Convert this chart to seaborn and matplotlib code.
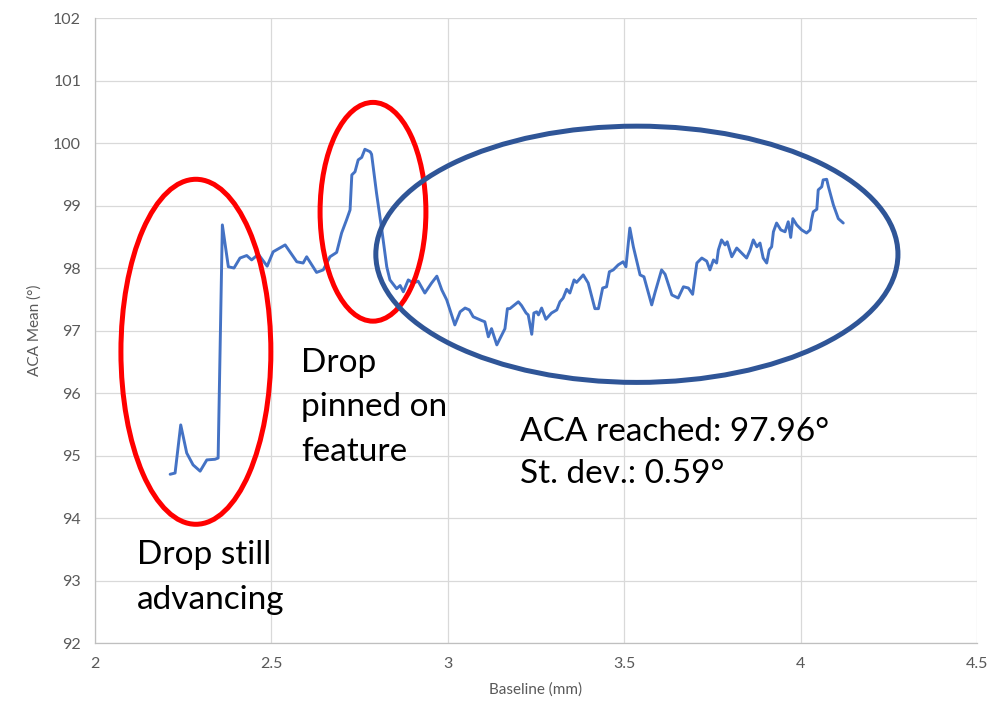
import numpy as np
import matplotlib.pyplot as plt
import pandas as pd
import seaborn as sns
from matplotlib.patches import Ellipse

# baseline (mm) i ACA mean (deg)
baseline = [2.213, 2.227, 2.243, 2.260, 2.278, 2.298, 2.317, 2.340, 2.349, 2.361,
            2.378, 2.394, 2.411, 2.430, 2.444, 2.463, 2.488, 2.505, 2.539, 2.572,
            2.590, 2.600, 2.628, 2.647, 2.666, 2.685, 2.699, 2.713, 2.723, 2.728,
            2.737, 2.746, 2.756, 2.765, 2.780, 2.784, 2.798, 2.813, 2.827, 2.836,
            2.855, 2.865, 2.874, 2.888, 2.902, 2.916, 2.935, 2.954, 2.969, 2.983,
            2.997, 3.020, 3.035, 3.049, 3.061, 3.072, 3.096, 3.105, 3.115, 3.124,
            3.139, 3.162, 3.169, 3.176, 3.200, 3.209, 3.222, 3.228, 3.238, 3.244,
            3.252, 3.257, 3.266, 3.278, 3.294, 3.309, 3.318, 3.327, 3.337, 3.346,
            3.358, 3.365, 3.384, 3.398, 3.417, 3.427, 3.439, 3.450, 3.458, 3.469,
            3.483, 3.497, 3.505, 3.516, 3.526, 3.545, 3.556, 3.578, 3.587, 3.606,
            3.616, 3.635, 3.653, 3.668, 3.682, 3.694, 3.706, 3.720, 3.734, 3.743,
            3.753, 3.762, 3.767, 3.776, 3.786, 3.792, 3.805, 3.819, 3.833, 3.847,
            3.857, 3.866, 3.876, 3.885, 3.894, 3.904, 3.911, 3.918, 3.923, 3.932,
            3.944, 3.956, 3.965, 3.972, 3.978, 3.989, 4.003, 4.017, 4.027, 4.031,
            4.036, 4.046, 4.050, 4.060, 4.064, 4.074, 4.079, 4.093, 4.107, 4.121]
aca_mean = [94.70, 94.72, 95.49, 95.04, 94.85, 94.75, 94.93, 94.94, 94.96, 98.69,
            98.02, 98.00, 98.16, 98.20, 98.13, 98.22, 98.03, 98.26, 98.37, 98.10,
            98.08, 98.18, 97.93, 97.97, 98.18, 98.25, 98.56, 98.77, 98.93, 99.49,
            99.54, 99.73, 99.77, 99.90, 99.86, 99.82, 99.20, 98.61, 98.02, 97.81,
            97.67, 97.72, 97.62, 97.81, 97.76, 97.79, 97.60, 97.76, 97.87, 97.65,
            97.49, 97.09, 97.30, 97.36, 97.33, 97.22, 97.16, 97.14, 96.90, 97.03,
            96.77, 97.03, 97.35, 97.35, 97.46, 97.40, 97.28, 97.25, 96.94, 97.28,
            97.30, 97.25, 97.36, 97.18, 97.28, 97.33, 97.46, 97.52, 97.66, 97.60,
            97.81, 97.77, 97.89, 97.76, 97.35, 97.35, 97.68, 97.70, 97.94, 97.97,
            98.05, 98.10, 98.02, 98.64, 98.34, 97.89, 97.86, 97.41, 97.60, 97.97,
            97.90, 97.57, 97.52, 97.70, 97.68, 97.58, 98.08, 98.16, 98.11, 97.97,
            98.13, 98.08, 98.29, 98.45, 98.37, 98.42, 98.18, 98.32, 98.24, 98.16,
            98.29, 98.45, 98.34, 98.40, 98.16, 98.08, 98.29, 98.34, 98.58, 98.72,
            98.61, 98.58, 98.74, 98.49, 98.79, 98.69, 98.61, 98.56, 98.61, 98.77,
            98.90, 98.94, 99.25, 99.30, 99.41, 99.42, 99.30, 99.01, 98.79, 98.72]

x_ticks = [2, 2.5, 3, 3.5, 4, 4.5]
x_labels = ['2', '2.5', '3', '3.5', '4', '4.5']
y_ticks = list(range(92, 103))

df = pd.DataFrame({'Baseline (mm)': baseline, 'ACA Mean (°)': aca_mean})

sns.set_style('white')
plt.rcParams['font.family'] = ['Lato', 'DejaVu Sans']

fig = plt.figure(figsize=(10.01, 7.27), dpi=100)
ax = fig.add_axes([0.0949, 0.1155, 0.8811, 0.8597])

sns.lineplot(data=df, x='Baseline (mm)', y='ACA Mean (°)', sort=False, estimator=None,
             color='#4472C4', linewidth=2.1, ax=ax)

ax.set_xlim(2, 4.5)
ax.set_ylim(92, 102)
ax.set_xticks(x_ticks)
ax.set_xticklabels(x_labels)
ax.set_yticks(y_ticks)
ax.grid(True, color='#D9D9D9', linewidth=0.9)
for s in ['top', 'right']:
    ax.spines[s].set_visible(False)
for s in ['left', 'bottom']:
    ax.spines[s].set_color('#BFBFBF')
    ax.spines[s].set_linewidth(0.9)
ax.tick_params(axis='both', colors='#595959', labelsize=11.5, length=0, pad=10)
ax.set_xlabel('Baseline (mm)', color='#595959', fontsize=11, labelpad=8)
ax.set_ylabel('ACA Mean (°)', color='#595959', fontsize=11, labelpad=8)

# elipsy z adnotacjami
ax.add_patch(Ellipse((2.286, 96.66), 0.425, 5.52, fill=False, edgecolor='#FF0000', linewidth=3.6, zorder=3))
ax.add_patch(Ellipse((2.788, 98.90), 0.300, 3.50, fill=False, edgecolor='#FF0000', linewidth=3.6, zorder=3))
ax.add_patch(Ellipse((3.536, 98.22), 1.480, 4.10, fill=False, edgecolor='#2F5597', linewidth=3.6, zorder=3))

ax.text(2.119, 93.65, 'Drop still\nadvancing', fontsize=24, va='top', ha='left', linespacing=1.62, color='black')
ax.text(2.584, 96.72, 'Drop\npinned on\nfeature', fontsize=24, va='top', ha='left', linespacing=1.60, color='black')
ax.text(3.205, 95.62, 'ACA reached: 97.96°\nSt. dev.: 0.59°', fontsize=24, va='top', ha='left', linespacing=1.50, color='black')

fig.savefig('out.png', dpi=100)
